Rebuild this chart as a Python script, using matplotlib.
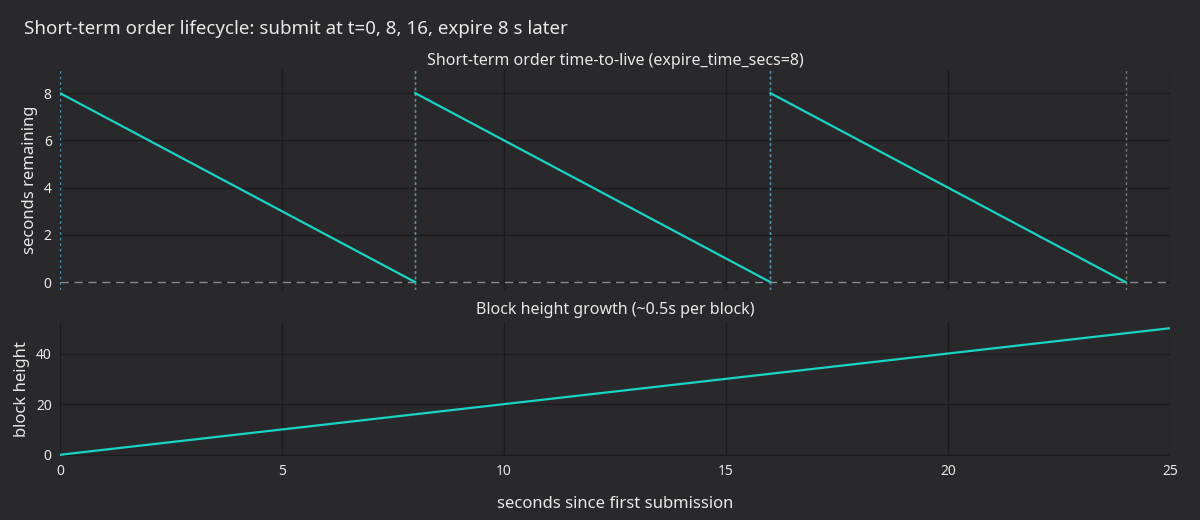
import matplotlib.pyplot as plt
import numpy as np

# --- data ---
submit_times = [0, 8, 16]
expire_secs = 8
expire_times = [t + expire_secs for t in submit_times]
block_t = [0, 5, 10, 15, 20, 25]
block_h = [0, 10, 20, 30, 40, 50]

bg = '#29292b'
grid = '#1c1c1e'
teal = '#19d3c5'
txt = '#e8e8e8'

plt.rcParams['font.family'] = ['Noto Sans', 'DejaVu Sans']
fig = plt.figure(figsize=(12, 5.2), dpi=100, facecolor=bg)
ax1 = fig.add_axes([0.05, 0.442, 0.925, 0.423])
ax2 = fig.add_axes([0.05, 0.123, 0.925, 0.258])

for ax in (ax1, ax2):
    ax.set_facecolor(bg)
    for s in ax.spines.values():
        s.set_visible(False)
    ax.grid(True, color=grid, linewidth=1)
    ax.set_axisbelow(True)
    ax.tick_params(colors=txt, labelsize=10, length=0, pad=6)
    ax.set_xlim(0, 25)
    ax.set_xticks([0, 5, 10, 15, 20, 25])

# --- top: time-to-live sawtooth ---
ax1.axhline(0, color='#8a8a90', linestyle=(0, (6, 4)), linewidth=1)
for s, e in zip(submit_times, expire_times):
    ax1.axvline(s, color='#4a90b8', linestyle=(0, (2, 2)), linewidth=1)
    ax1.axvline(e, color='#8a8a90', linestyle=(0, (2, 2)), linewidth=1, alpha=0.8)
    ax1.plot([s, e], [expire_secs, 0], color=teal, linewidth=1.6)
ax1.set_ylim(-0.34, 8.97)
ax1.set_yticks([0, 2, 4, 6, 8])
ax1.set_xticklabels([])
ax1.set_ylabel('seconds remaining', color=txt, fontsize=12)
ax1.set_title('Short-term order time-to-live (expire_time_secs=8)', color=txt, fontsize=11.5, pad=4)

# --- bottom: block height ---
ax2.plot(block_t, block_h, color=teal, linewidth=1.6)
ax2.set_ylim(-0.5, 52.5)
ax2.set_yticks([0, 20, 40])
ax2.set_ylabel('block height', color=txt, fontsize=12)
ax2.set_xlabel('seconds since first submission', color=txt, fontsize=12, labelpad=12)
ax2.set_title('Block height growth (~0.5s per block)', color=txt, fontsize=11.5, pad=6)

fig.text(0.02, 0.945, 'Short-term order lifecycle: submit at t=0, 8, 16, expire 8 s later',
         color=txt, fontsize=13.5, va='center')

fig.savefig('out.png', dpi=100, facecolor=bg)
